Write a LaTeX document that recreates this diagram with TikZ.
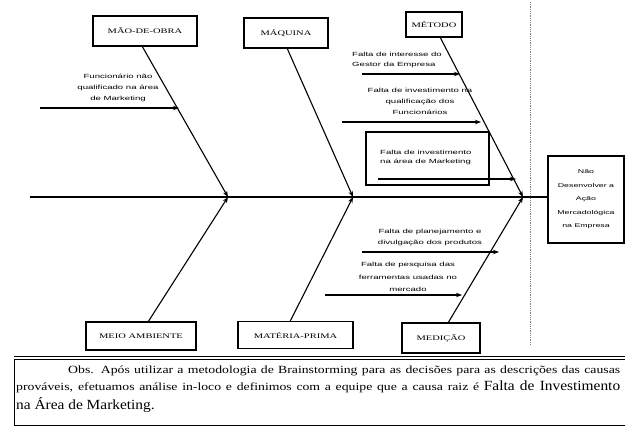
\documentclass[tikz,border=0pt]{standalone}
\usepackage{fontspec}
\setmainfont{Liberation Serif}
\newfontfamily\boxf[FakeStretch=1.5]{Liberation Serif}
\newfontfamily\causef[FakeStretch=1.6]{Liberation Sans}
\newfontfamily\obsf[FakeStretch=1.25]{Liberation Serif}
\newfontfamily\obsbigf[FakeStretch=1.1]{Liberation Serif}
\usetikzlibrary{arrows.meta,calc}
\tikzset{
  catbox/.style={draw, line width=1.3pt, inner sep=0pt, font=\boxf\fontsize{7}{8}\selectfont},
  bone/.style={line width=1.1pt, -{Stealth[length=6pt,width=4.5pt]}},
  cause/.style={line width=1.1pt, -{Stealth[length=6pt,width=4.5pt]}},
  ctext/.style={inner sep=0pt, font=\causef\fontsize{6}{11}\selectfont},
  obstext/.style={inner sep=0pt, anchor=base west, font=\obsf\fontsize{11}{13}\selectfont},
}
\begin{document}
\begin{tikzpicture}[x=1pt,y=-1pt]
\useasboundingbox (0,0) rectangle (625,427);
\fill[white] (0,0) rectangle (625,427);

% category boxes
\node[catbox, minimum width=104pt, minimum height=30pt] (mo) at (145,31) {MÃO-DE-OBRA};
\node[catbox, minimum width=84pt, minimum height=30pt] (maq) at (286,33) {MÁQUINA};
\node[catbox, minimum width=56pt, minimum height=25pt] (met) at (434,24.5) {MÉTODO};
\node[catbox, minimum width=110pt, minimum height=28pt] (ma) at (141,336) {MEIO AMBIENTE};
\node[catbox, minimum width=115pt, minimum height=27pt] (mp) at (295.5,335) {MATÉRIA-PRIMA};
\node[catbox, minimum width=78pt, minimum height=30pt] (med) at (441,338) {MEDIÇÃO};

% effect box
\node[draw, line width=1.3pt, minimum width=76pt, minimum height=87pt, inner sep=0pt,
      align=center, font=\causef\fontsize{5.5}{13.5}\selectfont] (ef) at (586,199.5)
      {Não\\Desenvolver a\\Ação\\Mercadológica\\na Empresa};

% dashed vertical line
\coordinate (dt) at (530,2);
\coordinate (db) at (530,345);
\draw[gray, line width=0.8pt, densely dotted] (dt) -- (db);

% spine
\coordinate (s0) at (30,197);
\draw[line width=1.1pt] (s0) -- (ef.west |- s0);

% junctions
\coordinate (j1) at (228,197);
\coordinate (j2) at (353,197);
\coordinate (j3) at (523,197);
\coordinate (b1) at (142,46);
\coordinate (b2) at (287,48);
\coordinate (b3) at (440,37);
\coordinate (b4) at (148,322);
\coordinate (b5) at (290,321.5);
\coordinate (b6) at (448,323);

\draw[bone] (b1) -- (j1);
\draw[bone] (b2) -- (j2);
\draw[bone] (b3) -- (j3);
\draw[bone] (b4) -- (j1);
\draw[bone] (b5) -- (j2);
\draw[bone] (b6) -- (j3);

% cause arrows
\coordinate (c1s) at (40,108);   \coordinate (c1e) at (179,108);
\coordinate (c2s) at (362,74);   \coordinate (c2e) at (460,74);
\coordinate (c3s) at (342,122);  \coordinate (c3e) at (481,122);
\coordinate (c4s) at (378,179);  \coordinate (c4e) at (516,179);
\coordinate (c5s) at (362,252);  \coordinate (c5e) at (499,252);
\coordinate (c6s) at (325,295);  \coordinate (c6e) at (462,295);
\draw[cause] (c1s) -- (c1e);
\draw[cause] (c2s) -- (c2e);
\draw[cause] (c3s) -- (c3e);
\draw[cause] (c4s) -- (c4e);
\draw[cause] (c5s) -- (c5e);
\draw[cause] (c6s) -- (c6e);

% cause texts
\node[ctext, align=center] (t1) at (118,88) {Funcionário não\\qualificado na área\\de Marketing};
\node[ctext, align=left, anchor=west, font=\causef\fontsize{6}{10}\selectfont] (t2) at (352,60) {Falta de interesse do\\Gestor da Empresa};
\node[ctext, align=center] (t3) at (420,101) {Falta de investimento na\\qualificação dos\\Funcionários};
\node[draw, line width=1.3pt, minimum width=123pt, minimum height=53pt, inner sep=0pt] (bx) at (427.5,158.5) {};
\node[ctext, align=left, anchor=west, font=\causef\fontsize{6}{9}\selectfont] (t4) at (380,157.5) {Falta de investimento\\na área de Marketing};
\node[ctext, align=center] (t5) at (430,237.5) {Falta de planejamento e\\divulgação dos produtos};
\node[ctext, align=center, font=\causef\fontsize{6}{12.5}\selectfont] (t6) at (408,277) {Falta de pesquisa das\\ferramentas usadas no\\mercado};

% obs box
\coordinate (o1) at (14,359);
\coordinate (o2) at (632,425);
\draw[line width=0.8pt] (o1) rectangle (o2);
\coordinate (o3) at (14,356.5);
\coordinate (o4) at (632,356.5);
\draw[line width=1pt] (o3) -- (o4);

\node[obstext] (l1) at (68,374) {\makebox[552pt][s]{Obs. Após utilizar a metodologia de Brainstorming para as decisões para as descrições das causas}};
\node[obstext] (l2) at (16,391) {\makebox[604pt][s]{prováveis, efetuamos análise in-loco e definimos com a equipe que a causa raiz é {\obsbigf\fontsize{14}{15}\selectfont Falta de Investimento}}};
\node[obstext, font=\obsbigf\fontsize{14}{15}\selectfont] (l3) at (16,410) {na Área de Marketing.};
\end{tikzpicture}
\end{document}
